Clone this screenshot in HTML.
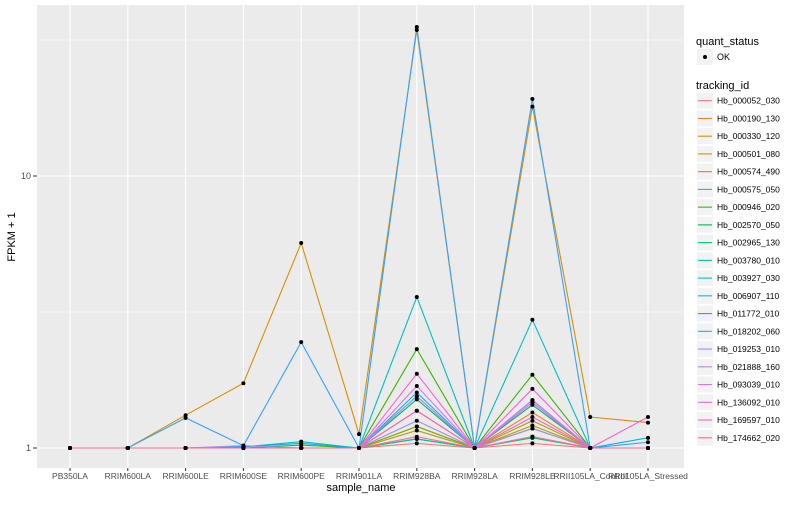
<!DOCTYPE html>
<html><head><meta charset="utf-8"><style>
body{margin:0;background:#fff;font-family:"Liberation Sans",sans-serif}
svg text{font-family:"Liberation Sans",sans-serif}
</style></head><body>
<svg id="chart" width="800" height="500">
<rect x="37" y="5" width="647" height="463" fill="#ebebeb"/>
<g id="grid"></g><g id="lines"></g><g id="points"></g><g id="axes"></g><g id="legend"></g>
<text x="361" y="491" font-size="11" text-anchor="middle" fill="#000">sample_name</text>
<text transform="translate(15,237) rotate(-90)" font-size="11" text-anchor="middle" fill="#000">FPKM + 1</text>
</svg>
<script>
const samples=["PB350LA","RRIM600LA","RRIM600LE","RRIM600SE","RRIM600PE","RRIM901LA","RRIM928BA","RRIM928LA","RRIM928LE","RRII105LA_Control","RRII105LA_Stressed"];
const ids=["Hb_000052_030","Hb_000190_130","Hb_000330_120","Hb_000501_080","Hb_000574_490","Hb_000575_050","Hb_000946_020","Hb_002570_050","Hb_002965_130","Hb_003780_010","Hb_003927_030","Hb_006907_110","Hb_011772_010","Hb_018202_060","Hb_019253_010","Hb_021888_160","Hb_093039_010","Hb_136092_010","Hb_169597_010","Hb_174662_020"];
const colors=["#F8766D","#EA8331","#D89000","#C09B00","#A3A500","#7CAE00","#39B600","#00BB4E","#00BF7D","#00C1A3","#00BFC4","#00BAE0","#00B0F6","#35A2FF","#9590FF","#C77CFF","#E76BF3","#FA62DB","#FF62BC","#FF6C91"];
const s0=[1,1,1,1,1,1,1.04,1,1.04,1,1];
const s1=[1,1,1,1,1,1,1.37,1,1.35,1,1];
const s2=[1,1,1.32,1.73,5.67,1.125,34.4,1,18.0,1.30,1.24];
const s3=[1,1,1,1,1,1,1.20,1,1.21,1,1];
const s4=[1,1,1,1,1,1,1.16,1,1.26,1,1];
const s5=[1,1,1,1,1,1,1.20,1,1.18,1,1];
const s6=[1,1,1,1,1.025,1,2.31,1,1.86,1,1];
const s7=[1,1,1,1,1,1,1.51,1,1.44,1,1];
const s8=[1,1,1,1,1,1,1.08,1,1.09,1,1];
const s9=[1,1,1,1,1,1,1.08,1,1.10,1,1];
const s10=[1,1,1,1.01,1.055,1,3.59,1,2.96,1,1];
const s11=[1,1,1,1,1,1,1.60,1,1.47,1,1];
const s12=[1,1,1,1.01,1.04,1,1.55,1,1.50,1,1.09];
const s13=[1,1,1.29,1.02,2.45,1,35.3,1,19.2,1,1.05];
const s14=[1,1,1,1.02,1,1,1.26,1,1.18,1,1];
const s15=[1,1,1,1,1,1,1.55,1,1.47,1,1];
const s16=[1,1,1,1,1,1,1.69,1,1.50,1,1];
const s17=[1,1,1,1,1,1,1.875,1,1.65,1,1];
const s18=[1,1,1,1,1,1,1.37,1,1.30,1,1.30];
const s19=[1,1,1,1,1,1,1.10,1,1.10,1,1];
const series=[s0,s1,s2,s3,s4,s5,s6,s7,s8,s9,s10,s11,s12,s13,s14,s15,s16,s17,s18,s19];
const yTicks=[1,10];
const NS="http://www.w3.org/2000/svg";
function mk(t,a,p){const e=document.createElementNS(NS,t);for(const k in a)e.setAttribute(k,a[k]);p.appendChild(e);return e;}
const X=i=>70+i*57.8;
const Y=v=>448-272*Math.log10(v);
const grid=document.getElementById('grid');
[0.5,1.5].forEach(l=>{const e=mk('line',{x1:37,x2:684,y1:448-272*l,y2:448-272*l,stroke:'#fff','stroke-width':0.5},grid);

});
yTicks.forEach(v=>{const e=mk('line',{x1:37,x2:684,y1:Y(v),y2:Y(v),stroke:'#fff','stroke-width':1.1},grid);

});
samples.forEach((s,i)=>{const e=mk('line',{x1:X(i),x2:X(i),y1:5,y2:468,stroke:'#fff','stroke-width':1.1},grid);

});
const lg=document.getElementById('lines'),pg=document.getElementById('points');
series.forEach((d,k)=>{const e=mk('polyline',{points:d.map((v,i)=>X(i)+','+Y(v)).join(' '),fill:'none',stroke:colors[k],'stroke-width':1.1},lg);


d.forEach((v,i)=>{const c=mk('circle',{cx:X(i),cy:Y(v),r:2,fill:'#000'},pg);

});});
const ax=document.getElementById('axes');
yTicks.forEach(v=>{const t=mk('text',{x:31,y:Y(v)+3,'font-size':9,'text-anchor':'end',fill:'#4d4d4d'},ax);t.textContent=v;


mk('line',{x1:33,x2:37,y1:Y(v),y2:Y(v),stroke:'#333'},ax);});
samples.forEach((s,i)=>{const t=mk('text',{x:X(i),y:479,'font-size':8.5,'text-anchor':'middle',fill:'#4d4d4d'},ax);t.textContent=s;


mk('line',{x1:X(i),x2:X(i),y1:468,y2:471,stroke:'#333'},ax);});
const L=document.getElementById('legend');
let t=mk('text',{x:696,y:45,'font-size':11,fill:'#000'},L);t.textContent='quant_status';


mk('rect',{x:697,y:49,width:16,height:16,fill:'#f2f2f2'},L);
mk('circle',{cx:705,cy:57,r:2,fill:'#000'},L);
t=mk('text',{x:717,y:60,'font-size':9,fill:'#000'},L);t.textContent='OK';


t=mk('text',{x:696,y:89,'font-size':11,fill:'#000'},L);t.textContent='tracking_id';


ids.forEach((id,k)=>{const cy=100.7+k*17.74;
mk('rect',{x:697,y:cy-8,width:16,height:16,fill:'#f2f2f2'},L);
mk('line',{x1:698,x2:712,y1:cy,y2:cy,stroke:colors[k],'stroke-width':1.1},L);
const e=mk('text',{x:717,y:cy+3,'font-size':8.5,fill:'#000'},L);e.textContent=id;

});
</script>
</body></html>
